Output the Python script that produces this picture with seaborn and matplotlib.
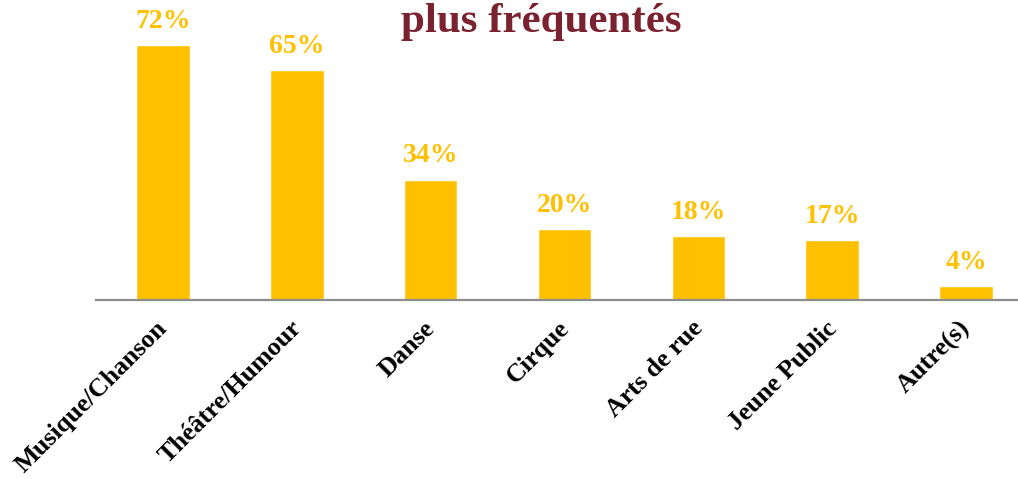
import matplotlib
matplotlib.use("Agg")
import matplotlib.pyplot as plt
import matplotlib.transforms as mtransforms
import seaborn as sns

sns.set_theme(style="white")
plt.rcParams['font.family'] = ['Liberation Serif', 'DejaVu Serif']

categories = ["Musique/Chanson", "Théâtre/Humour", "Danse", "Cirque",
              "Arts de rue", "Jeune Public", "Autre(s)"]
values = [72, 65, 34, 20, 18, 17, 4]
title = "plus fréquentés"

bar_color = "#FFC000"
title_color = "#7B2230"

fig = plt.figure(figsize=(10.18, 4.79), dpi=100)
ax = fig.add_axes([96 / 1018, 179 / 479, 937 / 1018, 300 / 479])

sns.barplot(x=categories, y=values, color=bar_color, saturation=1,
            width=0.4, ax=ax)

ax.set_xlim(-0.5, 6.5)
ax.set_ylim(0, 84.7)
ax.bar_label(ax.containers[0], labels=[f"{v}%" for v in values],
             padding=8, color=bar_color, fontsize=20, fontweight="bold")

for s in ["top", "left", "right"]:
  ax.spines[s].set_visible(False)
ax.spines["bottom"].set_color("#8c8c8c")
ax.spines["bottom"].set_linewidth(1.6)
ax.set_yticks([])
ax.tick_params(axis="x", length=0, pad=12)
ax.set_xticks(range(len(categories)))
ax.set_xticklabels(categories, rotation=45, ha="right", fontsize=18.8,
                   fontweight="bold", color="black")
# nudge labels a little to the right, like the original
shift = mtransforms.ScaledTranslation(9 / 100, 0, fig.dpi_scale_trans)
for lab in ax.get_xticklabels():
  lab.set_transform(lab.get_transform() + shift)
ax.set_xlabel("")
ax.set_ylabel("")

fig.text(541 / 1018, 1 - 22 / 479, title, ha="center", va="center", fontsize=31,
         fontweight="bold", color=title_color)

fig.savefig("out.png", dpi=100)
